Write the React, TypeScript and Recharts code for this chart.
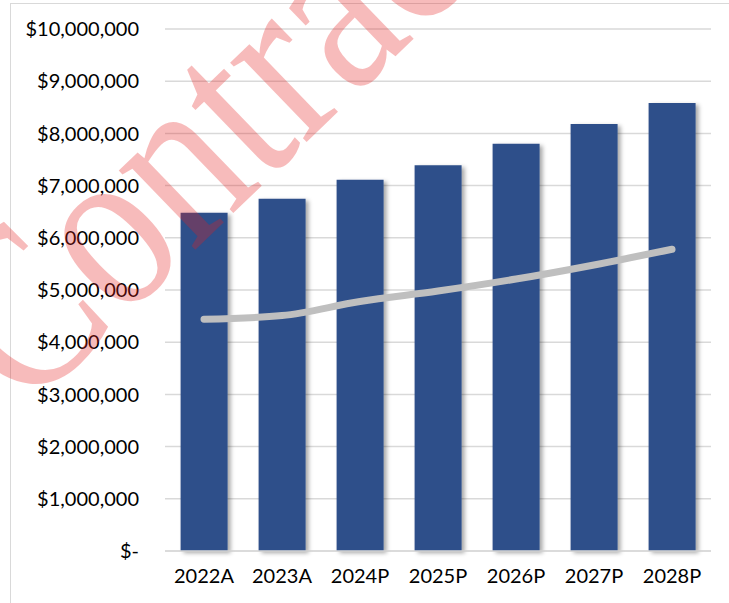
import React from 'react';
import { ComposedChart, Bar, Line, XAxis, YAxis, CartesianGrid } from 'recharts';

const years = ['2022A', '2023A', '2024P', '2025P', '2026P', '2027P', '2028P'];
const revenue = [6480000, 6750000, 7110000, 7390000, 7800000, 8180000, 8580000];
const expenses = [4440000, 4510000, 4780000, 4980000, 5210000, 5480000, 5780000];
const yTicks = [0, 1000000, 2000000, 3000000, 4000000, 5000000, 6000000, 7000000, 8000000, 9000000, 10000000];

const data = years.map((year, i) => ({ year, revenue: revenue[i], expenses: expenses[i] }));

const formatMoney = (v: number) => (v === 0 ? '$-' : '$' + v.toLocaleString('en-US'));

const font = 'Lato, "Noto Sans", sans-serif';

const App = () => {
  return (
    <div style={{ position: 'absolute', left: 0, top: 0, width: 729, height: 603, overflow: 'hidden', background: '#fff' }}>
      <div
        style={{
          position: 'absolute',
          left: 10,
          top: 3,
          width: 760,
          height: 640,
          border: '1px solid #d9d9d9',
        }}
      />
      <ComposedChart
        width={729}
        height={603}
        data={data}
        margin={{ top: 29, right: 18, left: 8, bottom: 22 }}
        barCategoryGap="20%"
        style={{ position: 'absolute', left: 0, top: 0 }}
      >
        <defs>
          <filter id="shadow" x="-20%" y="-20%" width="140%" height="140%">
            <feDropShadow dx="3" dy="2" stdDeviation="2" floodColor="#000" floodOpacity="0.35" />
          </filter>
        </defs>
        <CartesianGrid vertical={false} stroke="#d9d9d9" strokeWidth={1.5} />
        <XAxis
          dataKey="year"
          axisLine={{ stroke: '#d9d9d9', strokeWidth: 1.5 }}
          tickLine={false}
          tickMargin={12}
          height={30}
          tick={{ fill: '#000', fontSize: 20, fontFamily: font }}
        />
        <YAxis
          domain={[0, 10000000]}
          ticks={yTicks}
          tickFormatter={formatMoney}
          axisLine={false}
          tickLine={false}
          tickMargin={20}
          width={157}
          interval={0}
          tick={{ fill: '#000', fontSize: 20, fontFamily: font }}
        />
        <Bar dataKey="revenue" fill="#2e508a" filter="url(#shadow)" isAnimationActive={false} />
        <Line
          dataKey="expenses"
          type="monotone"
          stroke="#bfbfbf"
          strokeWidth={7}
          strokeLinecap="round"
          dot={false}
          activeDot={false}
          isAnimationActive={false}
        />
      </ComposedChart>
      <svg width={729} height={603} style={{ position: 'absolute', left: 0, top: 0, pointerEvents: 'none' }}>
        <text
          transform="translate(24 415) rotate(-44) scale(1 1.2)"
          fontFamily='"Liberation Serif", "DejaVu Serif", serif'
          fontSize={200}
          fill="rgba(228, 30, 30, 0.3)"
        >
          Contract
        </text>
      </svg>
    </div>
  );
};

export default App;
